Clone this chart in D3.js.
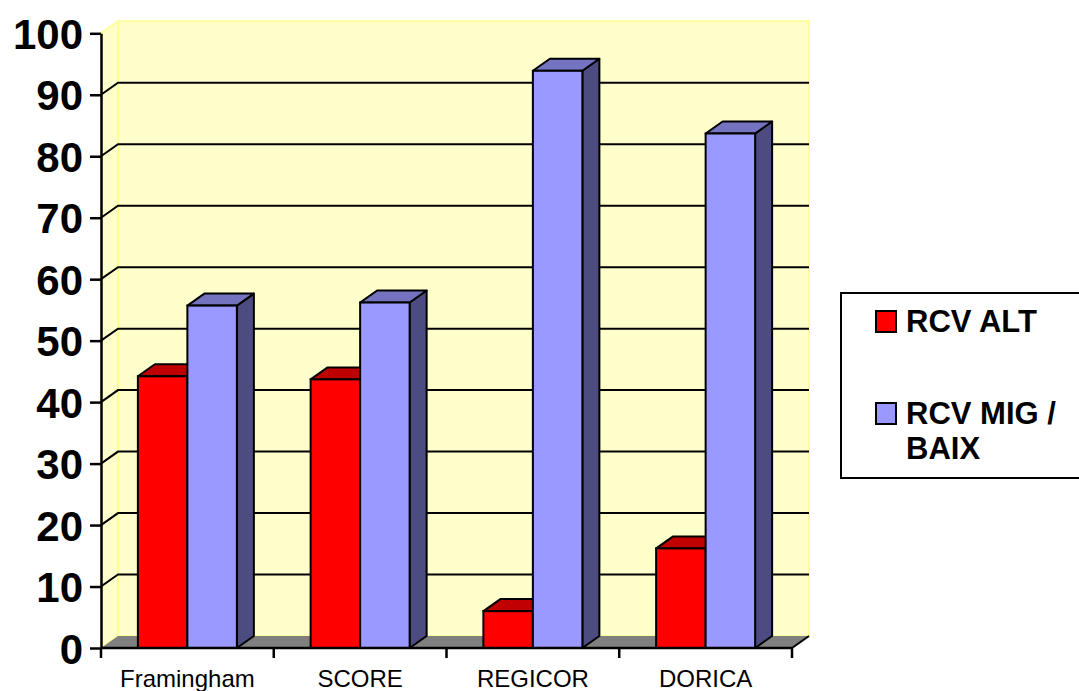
<!DOCTYPE html>
<html>
<head>
<meta charset="utf-8">
<script src="https://cdn.jsdelivr.net/npm/d3@7"></script>
<style>
  html, body { margin: 0; padding: 0; background: #ffffff; }
  svg { display: block; }
</style>
</head>
<body>
<svg id="chart" width="1079" height="691"></svg>
<script>
// ---- data ----
const categories = ["Framingham", "SCORE", "REGICOR", "DORICA"];
const seriesNames = ["RCV ALT", "RCV MIG / BAIX"];
const rcvAlt = [44.2, 43.7, 6.0, 16.2];
const rcvMigBaix = [55.7, 56.2, 93.9, 83.7];
const yTicks = [0, 10, 20, 30, 40, 50, 60, 70, 80, 90, 100];

// ---- styling / geometry ----
const seriesColors = [
  { front: "#FF0000", top: "#C00000", side: "#800000" },
  { front: "#9999FF", top: "#7373BF", side: "#4C4C80" }
];
const depthX = 17, depthY = -12;

const svg = d3.select("#chart");
const y = d3.scaleLinear().domain([0, 100]).range([648, 33.3]);
const x0 = d3.scaleBand().domain(categories).range([101, 792]).padding(0);
const groupWidth = 99;
const x1 = d3.scaleBand().domain(seriesNames).range([0, groupWidth]).padding(0);
const groupOffset = (x0.bandwidth() - groupWidth) / 2;

const xL = 101, xR = 792, yB = y(0), yT = y(100);

// side wall
svg.append("path")
  .attr("d", `M${xL},${yT} L${xL + depthX},${yT + depthY} L${xL + depthX},${yB + depthY} L${xL},${yB} Z`)
  .attr("fill", "#FFFFCC").attr("stroke", "#FFFF99").attr("stroke-width", 2);
// back wall
svg.append("rect")
  .attr("x", xL + depthX).attr("y", yT + depthY)
  .attr("width", xR - xL).attr("height", yB - yT)
  .attr("fill", "#FFFFCC").attr("stroke", "#FFFF99").attr("stroke-width", 2);
// floor
svg.append("path")
  .attr("d", `M${xL},${yB} L${xL + depthX},${yB + depthY} L${xR + depthX},${yB + depthY} L${xR},${yB} Z`)
  .attr("fill", "#808080").attr("stroke", "none");
svg.append("path")
  .attr("d", `M${xR + depthX},${yB + depthY} L${xR},${yB}`)
  .attr("fill", "none").attr("stroke", "#000").attr("stroke-width", 2);

// gridlines (back wall + side wall diagonals)
const gridVals = yTicks.filter(v => v > 0 && v < 100);
svg.append("g").selectAll("path").data(gridVals).join("path")
  .attr("d", v => `M${xL},${y(v)} L${xL + depthX},${y(v) + depthY} L${xR + depthX},${y(v) + depthY}`)
  .attr("fill", "none").attr("stroke", "#000").attr("stroke-width", 2);

// bars
const barData = [];
categories.forEach((c, i) => {
  [rcvAlt[i], rcvMigBaix[i]].forEach((v, s) => {
    barData.push({ cat: c, s, v });
  });
});
const bars = svg.append("g").selectAll("g").data(barData).join("g");
bars.each(function (d) {
  const g = d3.select(this);
  const bx = x0(d.cat) + groupOffset + x1(seriesNames[d.s]);
  const bw = x1.bandwidth();
  const ty = y(d.v);
  const col = seriesColors[d.s];
  // side
  g.append("path")
    .attr("d", `M${bx + bw},${ty} L${bx + bw + depthX},${ty + depthY} L${bx + bw + depthX},${yB + depthY} L${bx + bw},${yB} Z`)
    .attr("fill", col.side).attr("stroke", "#000").attr("stroke-width", 2).attr("stroke-linejoin", "round");
  // top
  g.append("path")
    .attr("d", `M${bx},${ty} L${bx + depthX},${ty + depthY} L${bx + bw + depthX},${ty + depthY} L${bx + bw},${ty} Z`)
    .attr("fill", col.top).attr("stroke", "#000").attr("stroke-width", 2).attr("stroke-linejoin", "round");
  // front
  g.append("rect")
    .attr("x", bx).attr("y", ty).attr("width", bw).attr("height", yB - ty)
    .attr("fill", col.front).attr("stroke", "#000").attr("stroke-width", 2);
});

// y axis
const yAxis = d3.axisLeft(y).tickValues(yTicks).tickSize(11).tickSizeOuter(0).tickPadding(7).tickFormat(d3.format("d"));
const gy = svg.append("g").attr("transform", `translate(${xL},0)`).call(yAxis);
gy.select(".domain").attr("stroke", "#000").attr("stroke-width", 2.5);
gy.selectAll(".tick line").attr("stroke", "#000").attr("stroke-width", 2.5);
gy.selectAll(".tick text")
  .attr("font-family", "'Liberation Sans', Arial, sans-serif")
  .attr("font-size", 42).attr("font-weight", "bold").attr("fill", "#000")
  .attr("dy", "0.36em");

// x axis (labels)
const xAxis = d3.axisBottom(x0).tickSize(0).tickPadding(22);
const gx = svg.append("g").attr("transform", `translate(0,${yB})`).call(xAxis);
gx.select(".domain").remove();
gx.selectAll(".tick text")
  .attr("font-family", "'Liberation Sans', Arial, sans-serif")
  .attr("font-size", 24).attr("fill", "#000");
// x axis line and boundary ticks
svg.append("line").attr("x1", xL).attr("x2", xR).attr("y1", yB).attr("y2", yB)
  .attr("stroke", "#000").attr("stroke-width", 2.5);
const bounds = categories.map(c => x0(c)).concat([x0.range()[1]]);
svg.append("g").selectAll("line").data(bounds).join("line")
  .attr("x1", d => d).attr("x2", d => d).attr("y1", yB).attr("y2", yB + 10)
  .attr("stroke", "#000").attr("stroke-width", 2.5);

// legend
const leg = svg.append("g");
leg.append("rect").attr("x", 841).attr("y", 293).attr("width", 260).attr("height", 185)
  .attr("fill", "#fff").attr("stroke", "#000").attr("stroke-width", 2);
const legendItems = [
  { name: seriesNames[0], lines: ["RCV ALT"], sy: 311, baseline: 332 },
  { name: seriesNames[1], lines: ["RCV MIG /", "BAIX"], sy: 403, baseline: 424 }
];
legendItems.forEach((it, i) => {
  leg.append("rect").attr("x", 876).attr("y", it.sy).attr("width", 20).attr("height", 21)
    .attr("fill", seriesColors[i].front).attr("stroke", "#000").attr("stroke-width", 2);
  const t = leg.append("text")
    .attr("font-family", "'Liberation Sans', Arial, sans-serif")
    .attr("font-size", 31).attr("font-weight", "bold").attr("fill", "#000");
  it.lines.forEach((ln, k) => {
    t.append("tspan").attr("x", 906).attr("y", it.baseline + k * 35).text(ln);
  });
});
</script>
</body>
</html>
